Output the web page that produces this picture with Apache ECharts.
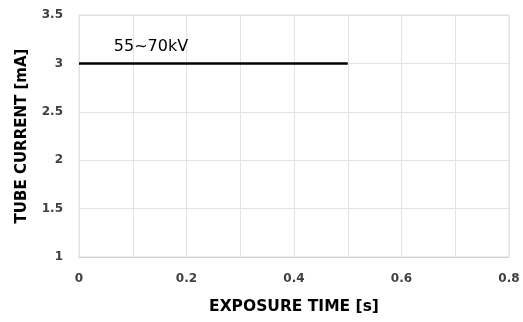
<!DOCTYPE html>
<html>
<head>
<meta charset="utf-8">
<script src="https://cdn.jsdelivr.net/npm/echarts@6/dist/echarts.min.js"></script>
<style>
  html, body { margin: 0; padding: 0; background: #fff; }
  #chart { width: 523px; height: 322px; }
</style>
</head>
<body>
<div id="chart"></div>
<script>
// exposure time [s] vs tube current [mA]
const timeValues = [0, 0.5];
const currentValues = [3, 3];
const rangeLabel = "55~70kV";
const labelAt = [0.134, 3.17];

const font = "DejaVu Sans";
const tickColor = "#404040";
const gridColor = "#e3e3e3";

const chart = echarts.init(document.getElementById("chart"));

chart.setOption({
  animation: false,
  grid: {
    left: 79, right: 14, top: 15, bottom: 65, containLabel: false,
    show: true, borderColor: "#dcdcdc", borderWidth: 1
  },
  xAxis: {
    type: "value",
    min: 0,
    max: 0.8,
    interval: 0.2,
    name: "EXPOSURE TIME [s]",
    nameLocation: "middle",
    nameGap: 42,
    nameTextStyle: { fontFamily: font, fontWeight: "bold", fontSize: 15.5, color: "#000" },
    axisLine: { show: true, lineStyle: { color: "#d0d0d0", width: 1 } },
    axisTick: { show: false },
    minorTick: { show: false, splitNumber: 2 },
    minorSplitLine: { show: true, lineStyle: { color: gridColor, width: 1 } },
    splitLine: { show: true, lineStyle: { color: gridColor, width: 1 } },
    axisLabel: { fontFamily: font, fontWeight: "bold", fontSize: 12, color: tickColor, margin: 16 }
  },
  yAxis: {
    type: "value",
    min: 1,
    max: 3.5,
    interval: 0.5,
    name: "TUBE CURRENT [mA]",
    nameLocation: "middle",
    nameGap: 49,
    nameTextStyle: { fontFamily: font, fontWeight: "bold", fontSize: 15, color: "#000" },
    axisLine: { show: false },
    axisTick: { show: false },
    splitLine: { show: true, lineStyle: { color: gridColor, width: 1 } },
    axisLabel: { fontFamily: font, fontWeight: "bold", fontSize: 12, color: tickColor, margin: 16 }
  },
  series: [
    {
      type: "line",
      data: timeValues.map((t, i) => [t, currentValues[i]]),
      symbol: "none",
      lineStyle: { color: "#000", width: 2.5 },
      markPoint: {
        symbol: "circle",
        symbolSize: 0,
        data: [{ coord: labelAt }],
        label: {
          show: true,
          position: "inside",
          formatter: rangeLabel,
          fontFamily: font,
          fontSize: 16,
          color: "#000"
        }
      }
    }
  ]
});
</script>
</body>
</html>
